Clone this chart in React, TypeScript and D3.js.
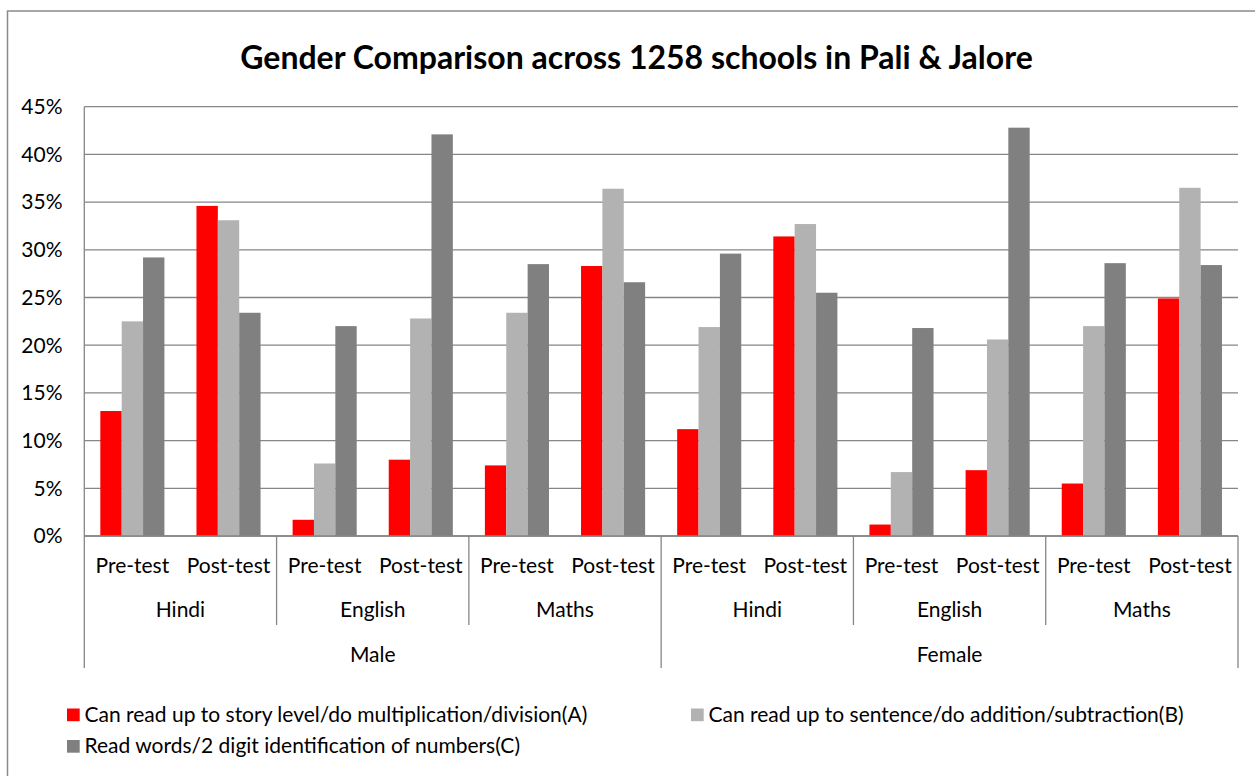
import React from "react";
import * as d3 from "d3";

const genders = ["Male", "Female"];
const subjects = ["Hindi", "English", "Maths"];
const tests = ["Pre-test", "Post-test"];

const seriesNames = [
  "Can read up to story level/do multiplication/division(A)",
  "Can read up to sentence/do addition/subtraction(B)",
  "Read words/2 digit identification of numbers(C)",
];
const seriesColors = ["#FF0000", "#B2B2B2", "#808080"];

// values in %, order: Male(Hindi pre, post, English pre, post, Maths pre, post), Female(...)
const seriesA = [13.1, 34.6, 1.7, 8.0, 7.4, 28.3, 11.2, 31.4, 1.2, 6.9, 5.5, 24.9];
const seriesB = [22.5, 33.1, 7.6, 22.8, 23.4, 36.4, 21.9, 32.7, 6.7, 20.6, 22.0, 36.5];
const seriesC = [29.2, 23.4, 22.0, 42.1, 28.5, 26.6, 29.6, 25.5, 21.8, 42.8, 28.6, 28.4];

const yTicks = [0, 5, 10, 15, 20, 25, 30, 35, 40, 45];

const title = "Gender Comparison across 1258 schools in Pali & Jalore";

const W = 1255;
const H = 776;
const FONT = "Lato, 'Open Sans', sans-serif";

export default function App() {
  const plotL = 84.3;
  const plotR = 1238;
  const plotT = 106.7;
  const plotB = 536;

  const leaves: { g: string; s: string; t: string; i: number }[] = [];
  genders.forEach((g) =>
    subjects.forEach((s) =>
      tests.forEach((t) => leaves.push({ g, s, t, i: leaves.length }))
    )
  );

  const x = d3
    .scaleBand<number>()
    .domain(leaves.map((d) => d.i))
    .range([plotL, plotR])
    .paddingInner(0)
    .paddingOuter(0);
  const bw = x.bandwidth();
  const xs = d3
    .scaleBand<number>()
    .domain([0, 1, 2])
    .range([0, bw])
    .paddingInner(0)
    .paddingOuter(0.75);
  const y = d3.scaleLinear().domain([0, 45]).range([plotB, plotT]);

  const series = [seriesA, seriesB, seriesC];
  const grid = "#868686";
  const fs = 21;

  const subjectBounds: number[] = [];
  const genderBounds: number[] = [];
  for (let k = 0; k <= leaves.length; k += 2) {
    const xv = k < leaves.length ? (x(k) as number) : plotR;
    if (k % 6 === 0) genderBounds.push(xv);
    else subjectBounds.push(xv);
  }

  const legendItems = [
    { x: 67, y: 708.5 },
    { x: 691, y: 708.5 },
    { x: 67, y: 740 },
  ];

  return (
    <svg
      width={W}
      height={H}
      style={{ position: "absolute", left: 0, top: 0, display: "block", background: "#fff" }}
      fontFamily={FONT}
    >
      <rect x={7.5} y={11} width={1300} height={900} fill="#fff" stroke="#8a8a8a" strokeWidth={1.5} />
      <text x={636.5} y={69} textAnchor="middle" fontSize={32} fontWeight="bold" fill="#000">
        {title}
      </text>

      {/* gridlines */}
      {yTicks.map((t) => (
        <line key={t} x1={plotL} x2={plotR} y1={y(t)} y2={y(t)} stroke={grid} strokeWidth={1.3} />
      ))}
      {/* y axis line */}
      <line x1={plotL} x2={plotL} y1={plotT} y2={plotB} stroke={grid} strokeWidth={1.3} />
      {yTicks.map((t) => (
        <text key={"l" + t} x={62.5} y={y(t)} dy="0.35em" textAnchor="end" fontSize={fs} fill="#000">
          {t + "%"}
        </text>
      ))}

      {/* bars */}
      {leaves.map((d) =>
        series.map((s, si) => (
          <rect
            key={d.i + "-" + si}
            x={(x(d.i) as number) + (xs(si) as number)}
            y={y(s[d.i])}
            width={xs.bandwidth()}
            height={plotB - y(s[d.i])}
            fill={seriesColors[si]}
          />
        ))
      )}

      {/* category axis */}
      <line x1={plotL} x2={plotR} y1={plotB} y2={plotB} stroke={grid} strokeWidth={1.3} />
      {subjectBounds.map((b, k) => (
        <line key={"sb" + k} x1={b} x2={b} y1={plotB} y2={625} stroke={grid} strokeWidth={1.3} />
      ))}
      {genderBounds.map((b, k) => (
        <line key={"gb" + k} x1={b} x2={b} y1={plotB} y2={668} stroke={grid} strokeWidth={1.3} />
      ))}
      {leaves.map((d) => (
        <text key={"t" + d.i} x={(x(d.i) as number) + bw / 2} y={573} textAnchor="middle" fontSize={fs} fill="#000">
          {d.t}
        </text>
      ))}
      {genders.map((g, gi) =>
        subjects.map((s, si) => {
          const k = gi * 6 + si * 2;
          const cx = (x(k) as number) + bw;
          return (
            <text key={g + s} x={cx} y={617} textAnchor="middle" fontSize={fs} fill="#000">
              {s}
            </text>
          );
        })
      )}
      {genders.map((g, gi) => {
        const cx = (x(gi * 6) as number) + bw * 3;
        return (
          <text key={g} x={cx} y={661.5} textAnchor="middle" fontSize={fs} fill="#000">
            {g}
          </text>
        );
      })}

      {/* legend */}
      {seriesNames.map((n, i) => (
        <g key={n} transform={`translate(${legendItems[i].x},${legendItems[i].y})`}>
          <rect x={0} y={0} width={12.7} height={12.7} fill={seriesColors[i]} />
          <text x={17.5} y={13.3} fontSize={fs} fill="#000">
            {n}
          </text>
        </g>
      ))}
    </svg>
  );
}
